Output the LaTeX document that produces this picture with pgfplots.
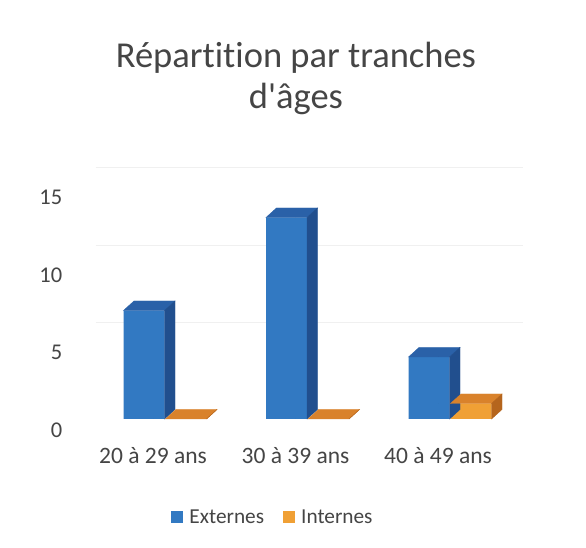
\documentclass[border=0pt]{standalone}
\usepackage{pgfplots}
\pgfplotsset{compat=1.18}
\usepackage{pgfplotstable}
\usepackage{fontspec}
\setmainfont{Carlito}[Ligatures={TeXOff,CommonOff}]
\definecolor{extfront}{HTML}{3279C2}
\definecolor{exttop}{HTML}{2A61A8}
\definecolor{extside}{HTML}{214F8E}
\definecolor{intfront}{HTML}{F0A035}
\definecolor{inttop}{HTML}{D9822B}
\definecolor{intside}{HTML}{B5651D}
\definecolor{txt}{HTML}{454545}
\pgfplotstableread{
x ext int
0 7 0
1 13 0
2 4 1
}\agedata
\begin{document}
\begin{tikzpicture}
\path[fill=white] (0,0) rectangle (586pt,548pt);
\begin{axis}[
  at={(81.75pt,129pt)}, anchor=south west,
  x=142.5pt, y=15.5pt,
  xmin=-0.5, xmax=2.5, ymin=0, ymax=16,
  clip=false,
  axis line style={draw=none},
  major tick length=0pt,
  xtick={0,1,2},
  xticklabels={20 à 29 ans, 30 à 39 ans, 40 à 49 ans},
  ytick={0,5,10,15},
  extra y ticks={5,10,15},
  extra y tick labels={},
  extra y tick style={ymajorgrids=true},
  major grid style={draw=black!6, xshift=14pt, yshift=19pt},
  tick label style={text=txt},
  xticklabel style={font=\fontsize{23.5}{28}\selectfont, yshift=-25pt},
  yticklabel style={font=\fontsize{22.5}{27}\selectfont, xshift=-16pt, yshift=-11pt},
  /pgf/number format/assume math mode=true,
  title={Répartition par tranches\\d'âges},
  title style={font=\fontsize{36.5}{41}\selectfont, text=txt, align=center,
    at={(axis description cs:0.501,1.35)}, anchor=center},
  legend style={at={(axis description cs:0.2088,-0.395)}, anchor=west,
    draw=none, fill=none, legend columns=2, inner sep=0pt,
    font=\fontsize{21.3}{26}\selectfont, text=txt},
  legend cell align=left,
]
\addlegendimage{legend image code/.code={\path[draw=none,fill=none] (0pt,0pt) -- (16pt,0pt); \fill[extfront] (0pt,-5.5pt) rectangle (11pt,5.5pt);}}
\addlegendentry{Externes}
\addlegendimage{legend image code/.code={\path[draw=none,fill=none] (-17pt,0pt) -- (16pt,0pt); \fill[intfront] (0pt,-5.5pt) rectangle (11pt,5.5pt);}}
\addlegendentry{Internes}
% Externes: front faces
\addplot[ybar, bar width=41pt, bar shift=-9pt, fill=extfront, draw=none, forget plot]
  table[x=x, y=ext]{\agedata};
% Externes: top and side faces
\addplot[forget plot, only marks, mark=*, mark size=0pt, scatter,
  scatter/use mapped color={draw=none, fill=none},
  visualization depends on={\thisrow{ext} \as \val},
  scatter/@pre marker code/.code={
    \fill[exttop] (-29.5pt,0pt) -- (-19pt,9.5pt) -- (22pt,9.5pt) -- (11.5pt,0pt) -- cycle;
    \fill[extside] (11.5pt,0pt) -- (22pt,9.5pt) -- (22pt,9.5pt-\val*15.5pt) -- (11.5pt,-\val*15.5pt) -- cycle;
    \scope},
  scatter/@post marker code/.code={\endscope}]
  table[x=x, y=ext]{\agedata};
% Internes: front faces
\addplot[ybar, bar width=41pt, bar shift=33pt, fill=intfront, draw=none, forget plot]
  table[x=x, y=int]{\agedata};
% Internes: top and side faces
\addplot[forget plot, only marks, mark=*, mark size=0pt, scatter,
  scatter/use mapped color={draw=none, fill=none},
  visualization depends on={\thisrow{int} \as \val},
  scatter/@pre marker code/.code={
    \fill[inttop] (12.5pt,0pt) -- (23pt,9.5pt) -- (64pt,9.5pt) -- (53.5pt,0pt) -- cycle;
    \fill[intside] (53.5pt,0pt) -- (64pt,9.5pt) -- (64pt,9.5pt-\val*15.5pt) -- (53.5pt,-\val*15.5pt) -- cycle;
    \scope},
  scatter/@post marker code/.code={\endscope}]
  table[x=x, y=int]{\agedata};
\end{axis}
\end{tikzpicture}
\end{document}
